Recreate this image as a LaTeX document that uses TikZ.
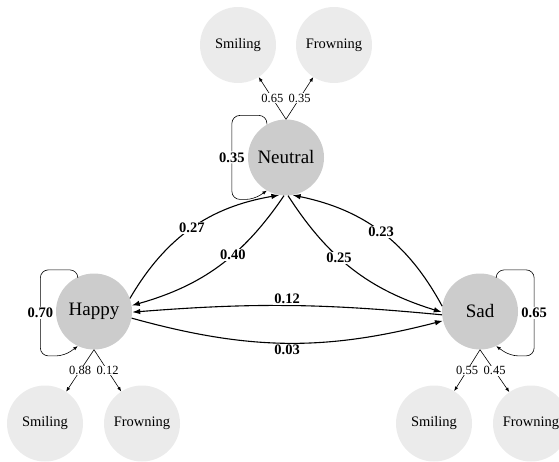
\documentclass[tikz,border=0pt]{standalone}
\usepackage{fontspec}
\setmainfont{Liberation Serif}
\usetikzlibrary{arrows.meta, positioning}
\definecolor{cstate}{RGB}{204,204,204}
\definecolor{cemit}{RGB}{235,235,235}

\begin{document}
\begin{tikzpicture}[
    x=1pt, y=1pt,
    state/.style={circle, fill=cstate, minimum size=76pt, inner sep=0pt, font=\fontsize{19}{22}\selectfont},
    emit/.style={circle, fill=cemit, minimum size=76pt, inner sep=0pt, font=\fontsize{14.5}{17}\selectfont},
    trans/.style={-{Latex[length=8pt,width=5.5pt]}, line width=1.1pt},
    obs/.style={-{Latex[length=4.5pt,width=3.5pt]}, line width=0.6pt},
    selfloop/.style={-{Latex[length=4.5pt,width=3.5pt]}, line width=0.6pt, rounded corners=8pt},
    plab/.style={fill=white, inner sep=1pt, font=\fontsize{14.5}{17}\selectfont\bfseries},
    olab/.style={fill=white, inner sep=0.5pt, font=\fontsize{12.5}{14}\selectfont},
]
    \useasboundingbox (0,0) rectangle (559,461);

    % Hidden states
    \node[state] (neutral) at (286,303.5) {Neutral};
    \node[state] (happy) at (94,149.5) {Happy};
    \node[state] (sad) at (480,149.5) {Sad};

    % Observations
    \node[emit] (nsmile) at (238,416) {Smiling};
    \node[emit] (nfrown) at (334,416) {Frowning};
    \node[emit] (hsmile) at (45,37.5) {Smiling};
    \node[emit] (hfrown) at (142,37.5) {Frowning};
    \node[emit] (ssmile) at (434,37.5) {Smiling};
    \node[emit] (sfrown) at (531,37.5) {Frowning};

    % Self transitions
    \draw[selfloop] (neutral.120) -- ++(0,9) -- ++(-35,0) -- ++(0,-84) node[midway, plab] {0.35}
        -- ++(22,0) -- (neutral.240);
    \draw[selfloop] (happy.115) -- ++(0,7) -- ++(-37.5,0) -- ++(0,-86) node[midway, plab] {0.70}
        -- ++(24,0) -- (happy.245);
    \draw[selfloop] (sad.65) -- ++(0,7) -- ++(38,0) -- ++(0,-86) node[midway, plab] {0.65}
        -- ++(-24,0) -- (sad.295);

    % Transitions
    \draw[trans] (happy.20) to[bend left=25] node[plab] {0.27} (neutral.-100);
    \draw[trans] (neutral.-93) to[bend left=20] node[plab, pos=0.4] {0.40} (happy.9);
    \draw[trans] (neutral.-87) to[bend right=20] node[plab, pos=0.4] {0.25} (sad.181);
    \draw[trans] (sad.172) to[bend right=25] node[plab] {0.23} (neutral.-80);
    \draw[trans] (sad.185) to[bend right=5] node[plab, above] {0.12} (happy.-1);
    \draw[trans] (happy.-10) to[bend right=15] node[plab, below] {0.03} (sad.194);

    % Emissions
    \draw[obs] (neutral.north) -- node[olab] {0.65} (nsmile);
    \draw[obs] (neutral.north) -- node[olab] {0.35} (nfrown);
    \draw[obs] (happy.south) -- node[olab] {0.88} (hsmile);
    \draw[obs] (happy.south) -- node[olab] {0.12} (hfrown);
    \draw[obs] (sad.south) -- node[olab] {0.55} (ssmile);
    \draw[obs] (sad.south) -- node[olab] {0.45} (sfrown);
\end{tikzpicture}
\end{document}
